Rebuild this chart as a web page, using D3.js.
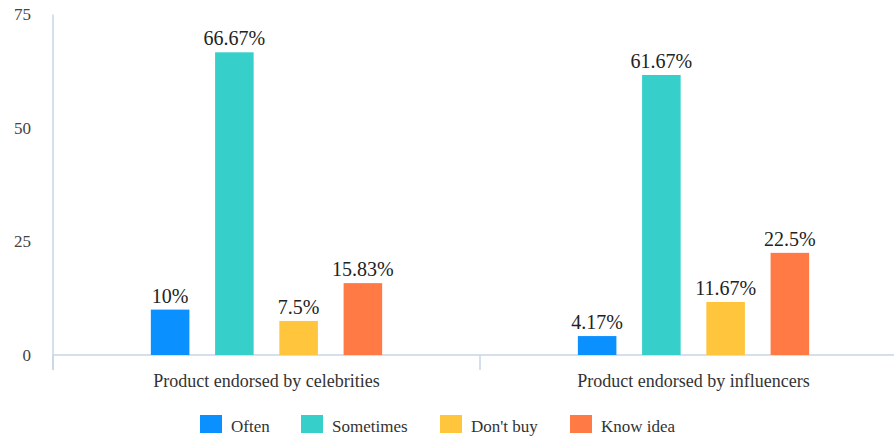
<!DOCTYPE html>
<html>
<head>
<meta charset="utf-8">
<script src="https://cdn.jsdelivr.net/npm/d3@7/dist/d3.min.js"></script>
<style>
  html, body { margin: 0; padding: 0; background: #fff; }
  svg text { font-family: "Liberation Serif", "Times New Roman", Times, serif; }
</style>
</head>
<body>
<svg id="chart" width="894" height="439"></svg>
<script>
// Survey responses: how often respondents buy endorsed products (%)
const categories = ["Product endorsed by celebrities", "Product endorsed by influencers"];
const seriesNames = ["Often", "Sometimes", "Don't buy", "Know idea"];
const often     = [10, 4.17];
const sometimes = [66.67, 61.67];
const dontBuy   = [7.5, 11.67];
const knowIdea  = [15.83, 22.5];
const valueLabels = [
  ["10%", "66.67%", "7.5%", "15.83%"],
  ["4.17%", "61.67%", "11.67%", "22.5%"]
];
const yTicks = [0, 25, 50, 75];
const colors = ["#0a91ff", "#36cfc9", "#ffc53d", "#ff7a45"];

const seriesValues = [often, sometimes, dontBuy, knowIdea];
const rows = categories.map((c, i) => ({
  category: c,
  items: seriesNames.map((s, j) => ({ series: s, value: seriesValues[j][i], label: valueLabels[i][j] }))
}));

const svg = d3.select("#chart");
const plotLeft = 53, plotRight = 907, plotTop = 14.5, plotBottom = 355;
const axisColor = "#c9d6e6";
const serif = '"Liberation Serif", "Times New Roman", Times, serif';

const x0 = d3.scaleBand().domain(categories).range([plotLeft, plotRight]).paddingInner(0).paddingOuter(0);
const x1 = d3.scaleBand().domain(seriesNames).range([0, x0.bandwidth()]).paddingInner(0.4).paddingOuter(1.523);
const y = d3.scaleLinear().domain([0, 75]).range([plotBottom, plotTop]);
const color = d3.scaleOrdinal().domain(seriesNames).range(colors);

// y axis line and tick labels
const yAxis = svg.append("g").attr("transform", `translate(${plotLeft},0)`)
  .call(d3.axisLeft(y).tickValues(yTicks).tickSize(0).tickPadding(22));
yAxis.attr("font-family", serif).attr("font-size", null);
yAxis.select(".domain").attr("stroke", axisColor).attr("stroke-width", 1.5)
  .attr("d", `M0,${plotTop}V${plotBottom + 15}`);
yAxis.selectAll(".tick text").attr("fill", "#444").style("font-size", "17px");

// x axis with band-boundary ticks
const xAxis = svg.append("g").attr("transform", `translate(0,${plotBottom})`)
  .call(d3.axisBottom(x0).tickSize(0).tickPadding(19));
xAxis.attr("font-family", serif).attr("font-size", null);
xAxis.select(".domain").attr("stroke", axisColor).attr("stroke-width", 1.5)
  .attr("d", `M${plotLeft},0H${plotRight}`);
xAxis.selectAll(".tick text").attr("fill", "#333").style("font-size", "18px");
const boundaries = [plotLeft, ...categories.slice(1).map(c => x0(c)), plotRight];
xAxis.selectAll("line.bound").data(boundaries).join("line")
  .attr("class", "bound")
  .attr("x1", d => d).attr("x2", d => d).attr("y1", 0).attr("y2", 15)
  .attr("stroke", axisColor).attr("stroke-width", 1.5);

// bars
const groups = svg.append("g").selectAll("g").data(rows).join("g")
  .attr("transform", d => `translate(${x0(d.category)},0)`);

groups.selectAll("rect").data(d => d.items).join("rect")
  .attr("x", d => x1(d.series))
  .attr("width", x1.bandwidth())
  .attr("y", d => y(d.value))
  .attr("height", d => y(0) - y(d.value))
  .attr("fill", d => color(d.series));

groups.selectAll("text.val").data(d => d.items).join("text")
  .attr("class", "val")
  .attr("x", d => x1(d.series) + x1.bandwidth() / 2)
  .attr("y", d => y(d.value) - 7)
  .attr("text-anchor", "middle")
  .attr("fill", "#222")
  .style("font-size", "20px")
  .text(d => d.label);

// legend
const legendX = [200, 301, 440, 570];
const legend = svg.append("g").selectAll("g").data(seriesNames).join("g")
  .attr("transform", (d, i) => `translate(${legendX[i]},415)`);
legend.append("rect").attr("width", 22).attr("height", 18).attr("fill", d => color(d));
legend.append("text").attr("x", 31).attr("y", 17).attr("fill", "#333")
  .style("font-size", "17px").text(d => d);
</script>
</body>
</html>
